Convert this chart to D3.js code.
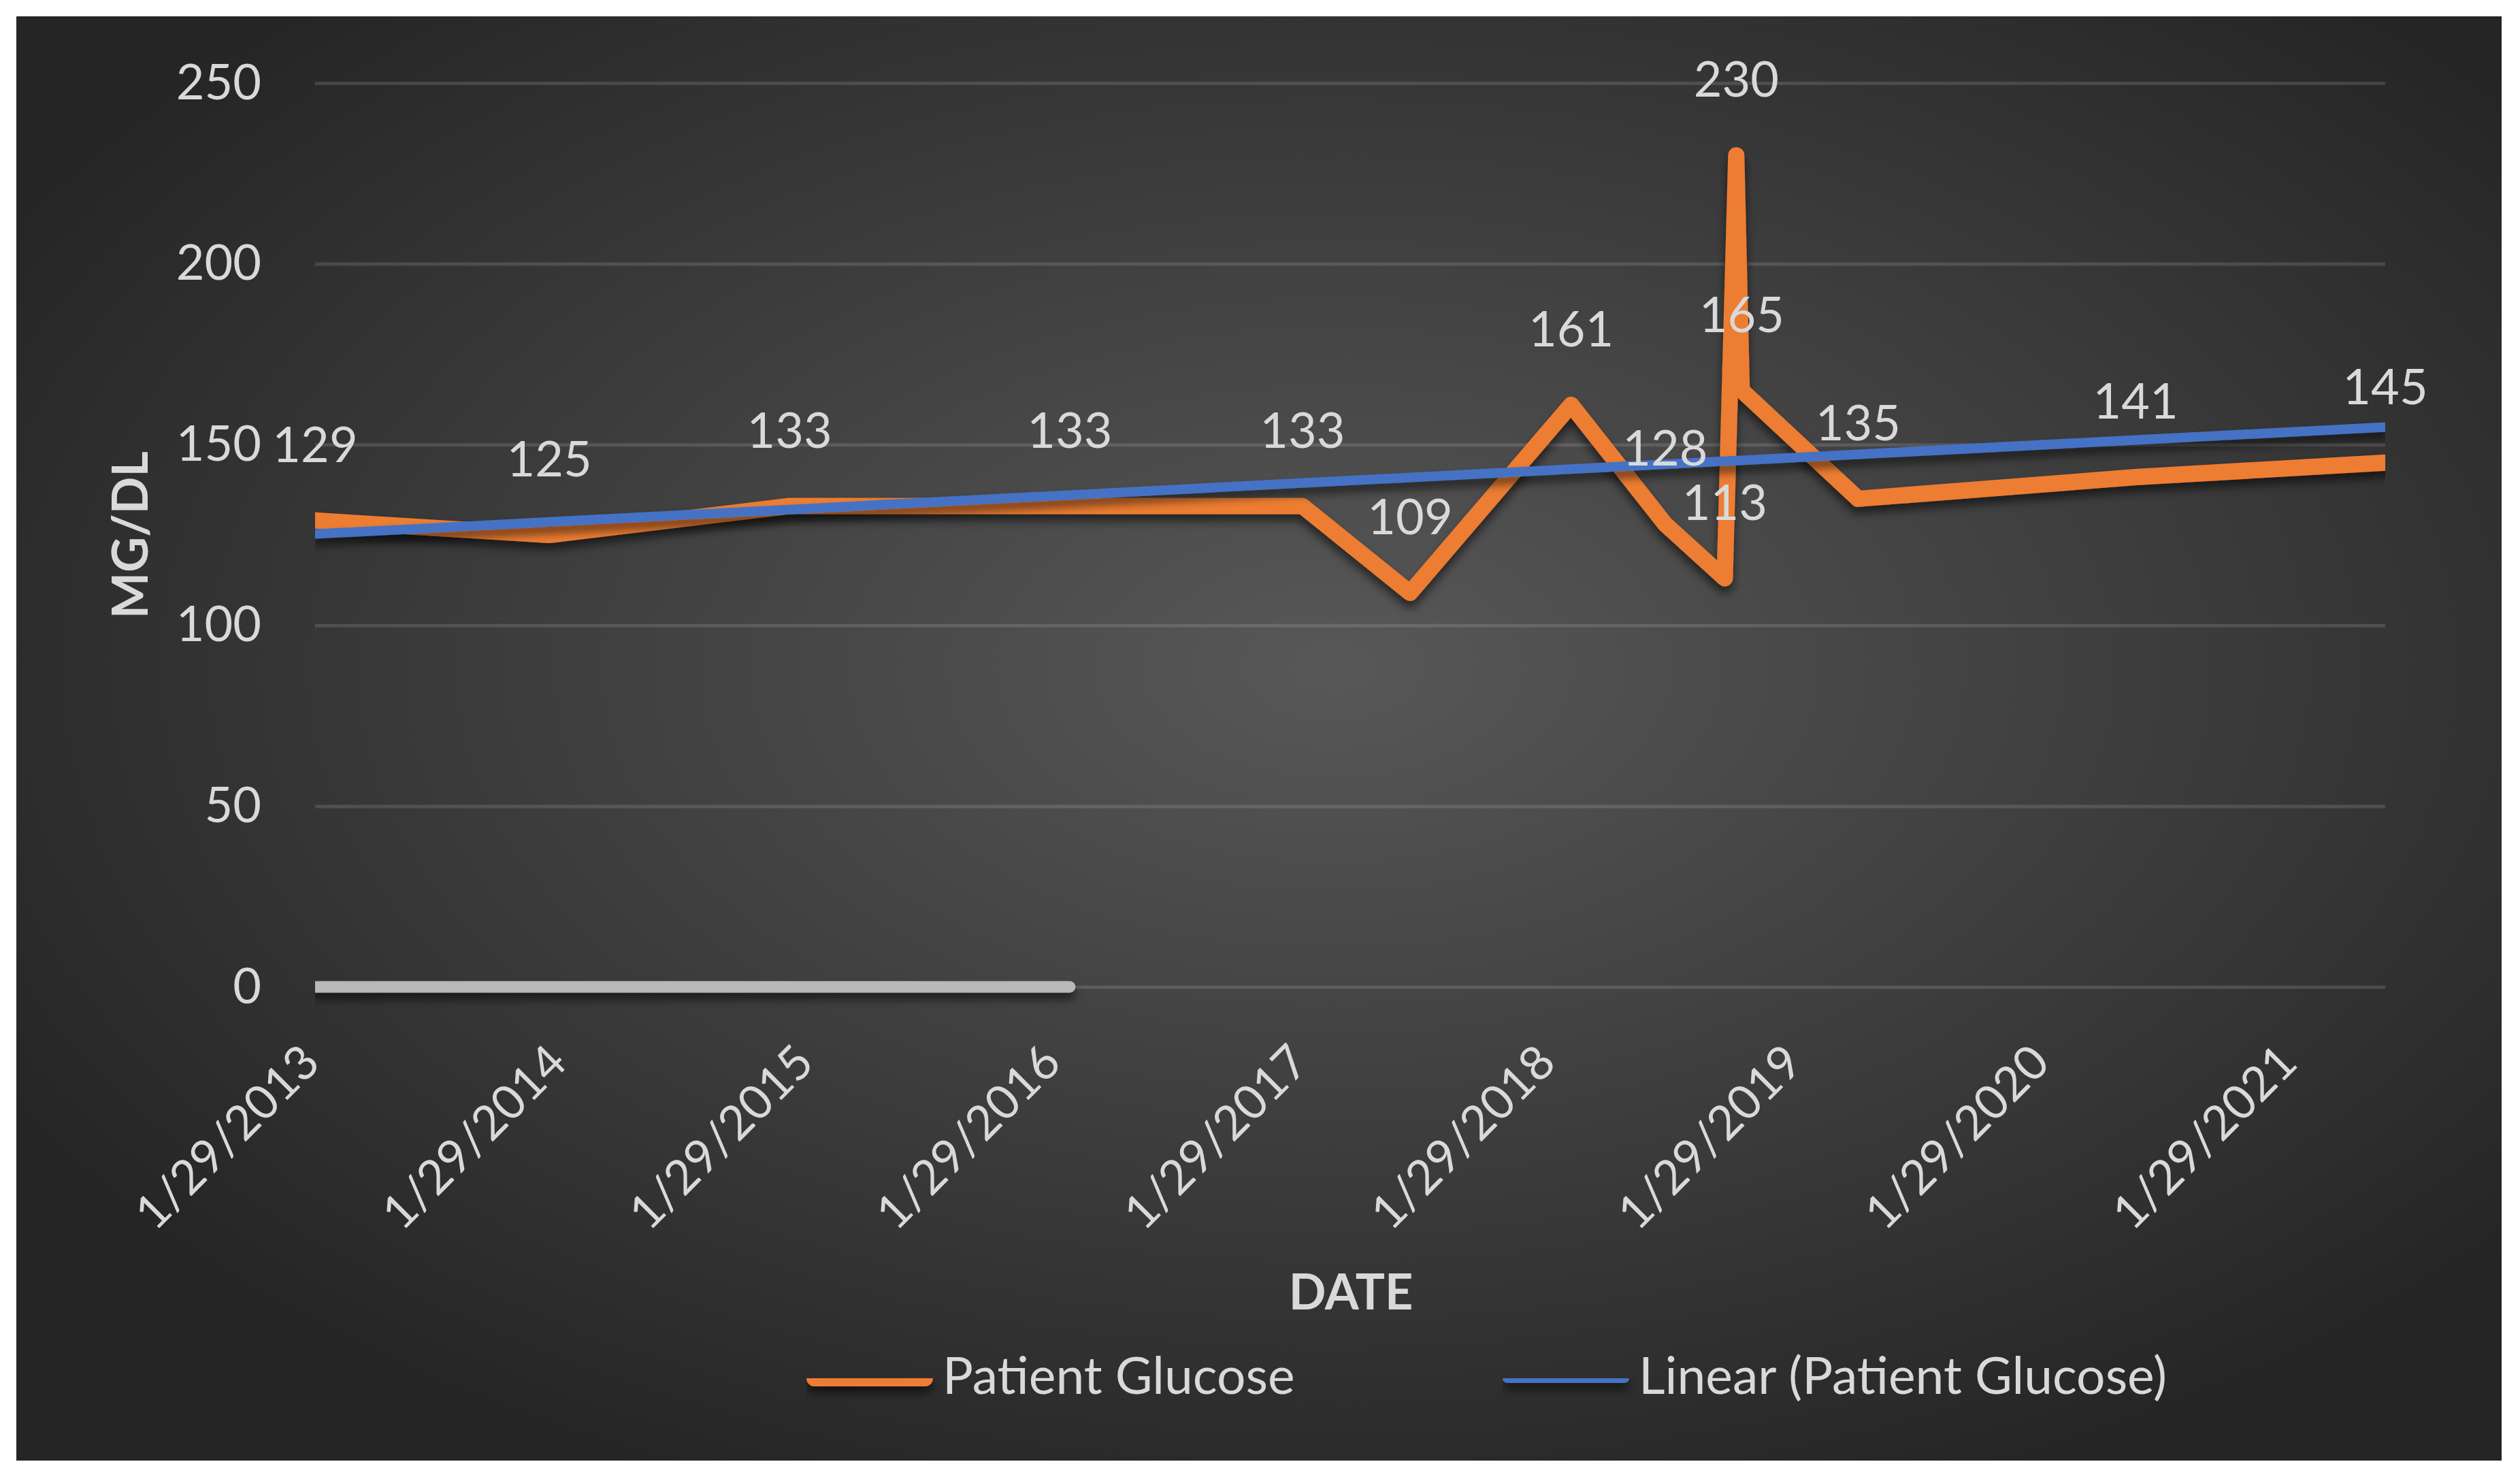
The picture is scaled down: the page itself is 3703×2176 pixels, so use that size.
<!DOCTYPE html>
<html>
<head>
<meta charset="utf-8">
<script src="https://cdn.jsdelivr.net/npm/d3@7"></script>
<style>
  body { margin: 0; background: #fff; }
  svg { display: block; }
  text { font-family: Lato, "Noto Sans", sans-serif; fill: #d9d9d9; }
</style>
</head>
<body>
<div id="chart"></div>
<script>
const readingDates = ["2013-01-29", "2014-01-10", "2014-12-31", "2016-02-18", "2017-01-27",
  "2017-07-05", "2018-02-28", "2018-07-17", "2018-10-13", "2018-10-30", "2018-11-07",
  "2019-04-28", "2020-06-11", "2021-06-15"];
const glucoseValues = [129, 125, 133, 133, 133, 109, 161, 128, 113, 230, 165, 135, 141, 145];

// the stray grey series that sits on the zero line
const zeroDates = ["2013-01-29", "2014-01-10", "2014-12-31", "2016-02-18"];
const zeroValues = [0, 0, 0, 0];

const yTickValues = [0, 50, 100, 150, 200, 250];
const xTickDates = ["2013-01-29", "2014-01-29", "2015-01-29", "2016-01-29", "2017-01-29",
  "2018-01-29", "2019-01-29", "2020-01-29", "2021-01-29"];
const xTickLabels = ["1/29/2013", "1/29/2014", "1/29/2015", "1/29/2016", "1/29/2017",
  "1/29/2018", "1/29/2019", "1/29/2020", "1/29/2021"];
const legendNames = ["Patient Glucose", "Linear (Patient Glucose)"];

const W = 3703, H = 2176;
const plot = { left: 463, right: 3505, top: 122, bottom: 1450 };
const ORANGE = "#ed7d31", BLUE = "#4472c4", GREY = "#b8b8b8";

const parse = d3.utcParse("%Y-%m-%d");
const glucose = readingDates.map((d, i) => ({ date: parse(d), value: glucoseValues[i] }));
const zeros = zeroDates.map((d, i) => ({ date: parse(d), value: zeroValues[i] }));

const svg = d3.select("#chart").append("svg")
  .attr("width", W).attr("height", H);

const defs = svg.append("defs");
const grad = defs.append("radialGradient")
  .attr("id", "bg").attr("cx", "53%").attr("cy", "45%").attr("r", "62%");
grad.append("stop").attr("offset", "0%").attr("stop-color", "#585858");
grad.append("stop").attr("offset", "100%").attr("stop-color", "#252525");

// user-space filter region so flat horizontal lines still render
defs.append("filter").attr("id", "shadow")
  .attr("filterUnits", "userSpaceOnUse")
  .attr("x", 0).attr("y", 0).attr("width", W).attr("height", H)
  .append("feDropShadow")
  .attr("dx", 0).attr("dy", 10).attr("stdDeviation", 7)
  .attr("flood-color", "#000").attr("flood-opacity", 0.55);

defs.append("clipPath").attr("id", "plotClip")
  .append("rect")
  .attr("x", plot.left).attr("y", 0)
  .attr("width", plot.right - plot.left).attr("height", H);

// chart background
svg.append("rect")
  .attr("x", 24).attr("y", 24)
  .attr("width", 3652).attr("height", 2122)
  .attr("fill", "url(#bg)");

// scales
const x = d3.scaleUtc()
  .domain([glucose[0].date, glucose[glucose.length - 1].date])
  .range([plot.left, plot.right]);
const y = d3.scaleLinear()
  .domain([0, 250])
  .range([plot.bottom, plot.top]);

// y axis with gridlines
const yAxis = svg.append("g")
  .attr("transform", `translate(${plot.left},0)`)
  .call(d3.axisLeft(y)
    .tickValues(yTickValues)
    .tickSizeInner(-(plot.right - plot.left))
    .tickSizeOuter(0)
    .tickPadding(79));
yAxis.select(".domain").remove();
yAxis.selectAll(".tick line")
  .attr("stroke", "#ffffff").attr("stroke-opacity", 0.13).attr("stroke-width", 5);
yAxis.selectAll(".tick text")
  .attr("fill", "#d9d9d9")
  .style("font-size", "72px")
  .style("font-family", "Lato, 'Noto Sans', sans-serif");

// x axis labels
const xAxis = svg.append("g")
  .attr("transform", `translate(0,${plot.bottom})`)
  .call(d3.axisBottom(x)
    .tickValues(xTickDates.map(parse))
    .tickFormat((d, i) => xTickLabels[i])
    .tickSize(0));
xAxis.select(".domain").remove();
xAxis.selectAll(".tick text")
  .attr("y", 0).attr("dy", 0)
  .attr("transform", "translate(10,115) rotate(-45)")
  .attr("fill", "#d9d9d9")
  .style("text-anchor", "end")
  .style("font-size", "70px")
  .style("font-family", "Lato, 'Noto Sans', sans-serif");

// linear trend (least squares on date, like the spreadsheet trendline)
const xs = glucose.map(d => +d.date), ys = glucose.map(d => d.value);
const mx = d3.mean(xs), my = d3.mean(ys);
const slope = d3.sum(xs, (v, i) => (v - mx) * (ys[i] - my)) / d3.sum(xs, v => (v - mx) * (v - mx));
const trend = x.domain().map(d => ({ date: d, value: my + slope * (+d - mx) }));

const line = d3.line()
  .x(d => x(d.date))
  .y(d => y(d.value));

const series = svg.append("g").attr("clip-path", "url(#plotClip)");

series.append("path")
  .datum(zeros)
  .attr("d", line)
  .attr("fill", "none")
  .attr("stroke", GREY)
  .attr("stroke-width", 17)
  .attr("stroke-linecap", "round")
  .attr("filter", "url(#shadow)");

series.append("path")
  .datum(glucose)
  .attr("d", line)
  .attr("fill", "none")
  .attr("stroke", ORANGE)
  .attr("stroke-width", 24)
  .attr("stroke-linecap", "round")
  .attr("stroke-linejoin", "round")
  .attr("filter", "url(#shadow)");

series.append("path")
  .datum(trend)
  .attr("d", line)
  .attr("fill", "none")
  .attr("stroke", BLUE)
  .attr("stroke-width", 14)
  .attr("stroke-linecap", "round")
  .attr("filter", "url(#shadow)");

// data labels above each point
svg.append("g")
  .selectAll("text")
  .data(glucose)
  .join("text")
  .attr("x", d => x(d.date))
  .attr("y", d => y(d.value) - 86)
  .attr("text-anchor", "middle")
  .style("font-size", "72px")
  .text(d => d.value);

// axis titles
svg.append("text")
  .attr("transform", "translate(217,786) rotate(-90)")
  .attr("text-anchor", "middle")
  .style("font-size", "72px")
  .style("font-weight", 700)
  .text("MG/DL");

svg.append("text")
  .attr("x", 1985).attr("y", 1924)
  .attr("text-anchor", "middle")
  .style("font-size", "72px")
  .style("font-weight", 700)
  .text("DATE");

// legend
const legendColors = [ORANGE, BLUE];
const legendWidths = [24, 14];
const legendStarts = [1185, 2208];
const legend = svg.append("g");
legendNames.forEach((name, i) => {
  const g = legend.append("g").attr("transform", `translate(${legendStarts[i]},2025)`);
  g.append("line")
    .attr("x1", legendWidths[i] / 2).attr("x2", 186 - legendWidths[i] / 2)
    .attr("stroke", legendColors[i])
    .attr("stroke-width", legendWidths[i])
    .attr("stroke-linecap", "round")
    .attr("filter", "url(#shadow)");
  g.append("text")
    .attr("x", 200).attr("y", 23)
    .style("font-size", "75px")
    .text(name);
});
</script>
</body>
</html>
